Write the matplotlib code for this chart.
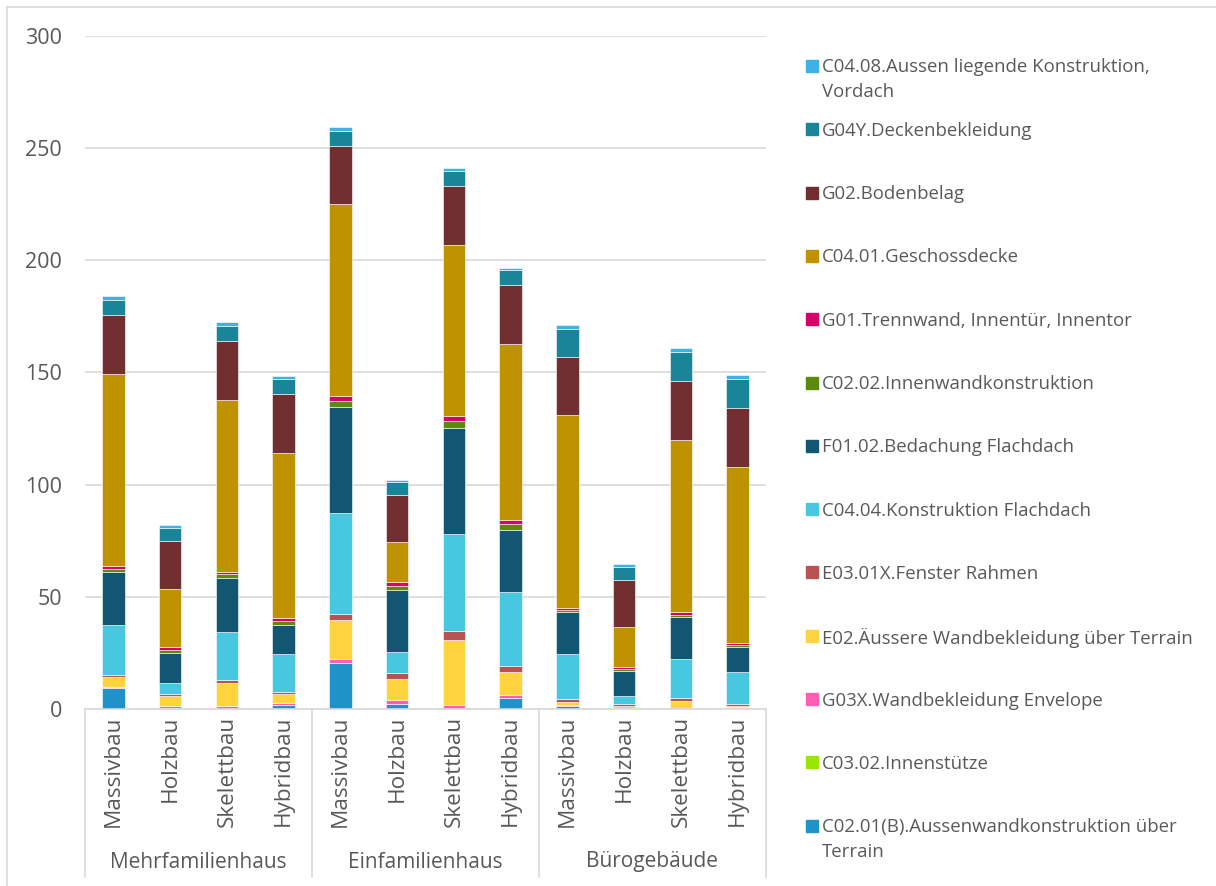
import matplotlib.pyplot as plt
from matplotlib.patches import Rectangle
from matplotlib.lines import Line2D
import numpy as np

plt.rcParams['font.family'] = ['Open Sans', 'DejaVu Sans']

gruppen = ['Mehrfamilienhaus', 'Einfamilienhaus', 'Bürogebäude']
bauweisen = ['Massivbau', 'Holzbau', 'Skelettbau', 'Hybridbau']

# Bauteile von unten nach oben gestapelt
bauteile = [
    'C02.01(B).Aussenwandkonstruktion über\nTerrain',
    'C03.02.Innenstütze',
    'G03X.Wandbekleidung Envelope',
    'E02.Äussere Wandbekleidung über Terrain',
    'E03.01X.Fenster Rahmen',
    'C04.04.Konstruktion Flachdach',
    'F01.02.Bedachung Flachdach',
    'C02.02.Innenwandkonstruktion',
    'G01.Trennwand, Innentür, Innentor',
    'C04.01.Geschossdecke',
    'G02.Bodenbelag',
    'G04Y.Deckenbekleidung',
    'C04.08.Aussen liegende Konstruktion,\nVordach',
]
farben = ['#1f93c7', '#99e600', '#ff5eb4', '#ffd33d', '#b85253', '#47c8e0',
          '#125673', '#5b8a0e', '#d6006b', '#be9200', '#722f31', '#1a8499',
          '#3cb2e6']

# Werte je Bauteil, 12 Balken (MFH, EFH, Büro je Massiv/Holz/Skelett/Hybrid)
c02_01 = [9.2, 0.6, 0.2, 2.0, 20.3, 2.3, 0.0, 4.9, 1.5, 0.3, 0.0, 0.4]
c03_02 = [0.0, 0.0, 0.0, 0.0, 0.0, 0.0, 0.0, 0.0, 0.0, 0.0, 0.0, 0.0]
g03x = [0.8, 0.6, 1.0, 0.6, 1.9, 1.5, 1.7, 1.5, 0.5, 0.3, 0.3, 0.3]
e02 = [4.1, 4.6, 10.6, 4.0, 17.4, 9.4, 28.9, 10.1, 1.3, 0.6, 3.4, 0.8]
e03_01x = [1.0, 0.8, 1.3, 1.2, 2.8, 2.8, 4.1, 2.6, 1.0, 0.9, 1.2, 0.9]
c04_04 = [22.2, 4.8, 21.4, 16.5, 44.8, 9.2, 43.1, 33.0, 20.0, 3.9, 17.3, 14.1]
f01_02 = [23.9, 13.5, 23.9, 13.3, 47.5, 27.8, 47.5, 27.8, 19.0, 11.0, 18.9, 11.2]
c02_02 = [1.3, 1.4, 1.6, 1.8, 2.8, 1.9, 3.2, 2.6, 1.0, 0.7, 1.0, 0.9]
g01 = [1.4, 1.2, 1.2, 1.2, 2.1, 1.7, 1.9, 1.7, 0.9, 0.9, 1.1, 0.9]
c04_01 = [85.5, 26.1, 76.6, 73.7, 85.4, 17.7, 76.5, 78.5, 85.8, 17.9, 76.7, 78.4]
g02 = [26.3, 21.5, 26.2, 26.1, 26.0, 21.2, 26.4, 26.2, 26.1, 21.1, 26.2, 26.3]
g04y = [6.6, 5.6, 6.7, 6.6, 6.8, 5.7, 6.7, 6.8, 12.5, 5.8, 13.1, 13.1]
c04_08 = [1.6, 1.4, 1.6, 1.6, 1.6, 1.1, 1.3, 1.0, 1.5, 1.2, 1.5, 1.5]

werte = [c02_01, c03_02, g03x, e02, e03_01x, c04_04, f01_02, c02_02, g01,
         c04_01, g02, g04y, c04_08]

W, H = 1216, 886
fig = plt.figure(figsize=(W / 100, H / 100), dpi=100)
ax = fig.add_axes([85 / W, (H - 709) / H, 681 / W, 673 / H])

x = np.arange(12)
unten = np.zeros(12)
for name, v, c in zip(bauteile, werte, farben):
    ax.bar(x, v, bottom=unten, width=0.4, color=c, edgecolor='white',
           linewidth=0.4, label=name)
    unten += np.array(v)

ax.set_xlim(-0.5, 11.5)
ax.set_ylim(0, 300)
ax.set_yticks(range(0, 301, 50))
ax.yaxis.grid(True, color='#d9d9d9', linewidth=1.2)
ax.set_axisbelow(True)
for s in ['top', 'right', 'left']:
    ax.spines[s].set_visible(False)
ax.spines['bottom'].set_color('#d9d9d9')
ax.spines['bottom'].set_linewidth(1.2)
ax.tick_params(axis='y', length=0, pad=16.5, labelsize=15.5, labelcolor='#595959')
ax.tick_params(axis='x', length=0, pad=5)
ax.set_xticks(x)
ax.set_xticklabels(bauweisen * 3, rotation=90, fontsize=16.2, color='#595959',
                   va='top')

# Gruppentrenner und Gruppenbeschriftung unterhalb der Achse
trans = ax.get_xaxis_transform()
for g in range(4):
    xg = g * 4 - 0.5
    ax.add_line(Line2D([xg, xg], [0, -168 / 673], transform=trans,
                       color='#d9d9d9', linewidth=1.2, clip_on=False))
for g, name in enumerate(gruppen):
    ax.text(g * 4 + 1.5, -153 / 673, name, transform=trans, ha='center',
            va='center', fontsize=15, color='#595959')

# Legende rechts, oberster Stapelteil zuerst
y0, dy = H - 66, 63.3
for i, (name, c) in enumerate(zip(bauteile[::-1], farben[::-1])):
    yy = y0 - i * dy
    fig.patches.append(Rectangle((806 / W, (yy - 6) / H), 12 / W, 12 / H,
                                 transform=fig.transFigure, color=c))
    fig.text(822 / W, (yy + 7.5) / H, name, ha='left', va='top',
             fontsize=13.4, color='#595959', linespacing=1.48)

# Rahmen um das Diagramm
fig.add_artist(Line2D([7 / W, 1], [1 - 7 / H, 1 - 7 / H], color='#d9d9d9',
                      linewidth=1.2))
fig.add_artist(Line2D([7 / W, 7 / W], [0, 1 - 7 / H], color='#d9d9d9',
                      linewidth=1.2))

fig.savefig('out.png', dpi=100, facecolor='white')
